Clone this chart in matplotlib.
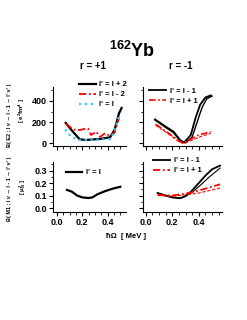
import numpy as np
import matplotlib
matplotlib.use('Agg')
import matplotlib.pyplot as plt
from matplotlib.ticker import MultipleLocator

plt.rcParams['font.family'] = ['Liberation Sans', 'DejaVu Sans']
plt.rcParams['font.weight'] = 'bold'
plt.rcParams['mathtext.default'] = 'regular'

# ============================================================
# Data
# ============================================================
# r = +1, B(E2)
tl_black_x = [0.07, 0.115, 0.18, 0.23, 0.30, 0.34, 0.42, 0.455, 0.49, 0.51]
tl_black_y = [192, 126, 38, 31, 38, 41, 57, 126, 283, 333]
tl_red_x = [0.07, 0.13, 0.18, 0.215, 0.245, 0.27, 0.31, 0.34, 0.38, 0.42, 0.455, 0.49]
tl_red_y = [185, 130, 125, 135, 140, 78, 110, 60, 95, 70, 100, 240]
tl_cyan_x = [0.065, 0.115, 0.18, 0.25, 0.33, 0.42, 0.45, 0.49]
tl_cyan_y = [130, 60, 30, 33, 35, 40, 100, 255]

# r = -1, B(E2)
tr_black1_x = [0.07, 0.15, 0.21, 0.26, 0.29, 0.34, 0.375, 0.41, 0.45, 0.49]
tr_black1_y = [226, 158, 110, 30, 8, 80, 238, 364, 433, 452]
tr_black2_x = [0.07, 0.15, 0.21, 0.26, 0.30, 0.35, 0.39, 0.425, 0.46, 0.50]
tr_black2_y = [220, 150, 100, 22, 4, 60, 210, 340, 420, 445]
tr_red1_x = [0.075, 0.19, 0.25, 0.28, 0.34, 0.40, 0.49]
tr_red1_y = [180, 80, 22, 2, 40, 80, 108]
tr_red2_x = [0.075, 0.19, 0.25, 0.29, 0.35, 0.41, 0.49]
tr_red2_y = [170, 72, 15, 0, 30, 62, 95]

# r = +1, B(M1)
bl_black_x = [0.08, 0.12, 0.16, 0.20, 0.25, 0.28, 0.32, 0.38, 0.44, 0.50]
bl_black_y = [0.145, 0.13, 0.10, 0.085, 0.08, 0.085, 0.11, 0.135, 0.155, 0.17]

# r = -1, B(M1)
br_black1_x = [0.09, 0.15, 0.20, 0.26, 0.30, 0.34, 0.40, 0.45, 0.50, 0.56]
br_black1_y = [0.12, 0.10, 0.085, 0.078, 0.095, 0.13, 0.20, 0.26, 0.31, 0.34]
br_black2_x = [0.09, 0.15, 0.20, 0.26, 0.30, 0.35, 0.42, 0.48, 0.56]
br_black2_y = [0.12, 0.10, 0.085, 0.08, 0.095, 0.125, 0.19, 0.25, 0.32]
br_red1_x = [0.09, 0.20, 0.30, 0.40, 0.50, 0.56]
br_red1_y = [0.105, 0.10, 0.115, 0.14, 0.17, 0.19]
br_red2_x = [0.09, 0.20, 0.30, 0.40, 0.50, 0.56]
br_red2_y = [0.10, 0.095, 0.105, 0.12, 0.145, 0.16]

RED = '#ff0000'
CYAN = '#33ccee'


def style(ax, top, labels):
    ax.spines['top'].set_visible(False)
    ax.spines['right'].set_visible(False)
    ax.xaxis.set_major_locator(MultipleLocator(0.2))
    ax.xaxis.set_minor_locator(MultipleLocator(0.05))
    if top:
        ax.set_ylim(-25, 530)
        ax.yaxis.set_major_locator(MultipleLocator(200))
        ax.yaxis.set_minor_locator(MultipleLocator(100))
        ax.tick_params(axis='x', labelbottom=False)
    else:
        ax.set_ylim(-0.032, 0.368)
        ax.yaxis.set_major_locator(MultipleLocator(0.1))
        ax.yaxis.set_minor_locator(MultipleLocator(0.05))
    if not labels:
        ax.tick_params(axis='y', labelleft=False)
    ax.tick_params(which='major', length=3, width=0.8, labelsize=6.5, pad=1.5)
    ax.tick_params(which='minor', length=1.8, width=0.6)
    for lab in ax.get_xticklabels() + ax.get_yticklabels():
        lab.set_fontweight('bold')


fig = plt.figure(figsize=(2.47, 3.20), dpi=100)
ax_tl = fig.add_axes([0.2146, 0.5438, 0.2955, 0.184])
ax_tr = fig.add_axes([0.579, 0.5438, 0.320, 0.184])
ax_bl = fig.add_axes([0.2146, 0.3375, 0.2955, 0.156])
ax_br = fig.add_axes([0.579, 0.3375, 0.320, 0.156])

for ax in (ax_tl, ax_bl):
    ax.set_xlim(-0.03, 0.545)
for ax in (ax_tr, ax_br):
    ax.set_xlim(-0.02, 0.575)

# top-left
ax_tl.plot(tl_black_x, tl_black_y, '-', color='black', lw=1.6, label="I' = I + 2")
ax_tl.plot(tl_red_x, tl_red_y, '--', color=RED, lw=1.3, dashes=(4, 1.5, 1, 1.5), label="I' = I - 2")
ax_tl.plot(tl_cyan_x, tl_cyan_y, ':', color=CYAN, lw=1.6, label="I' = I")
ax_tl.legend(loc='upper left', bbox_to_anchor=(0.3, 1.17), frameon=False, fontsize=5.5,
             handlelength=2.2, handletextpad=0.5, labelspacing=0.35, borderpad=0)

# top-right
ax_tr.plot(tr_black1_x, tr_black1_y, '-', color='black', lw=1.3, label="I' = I - 1")
ax_tr.plot(tr_black2_x, tr_black2_y, '-', color='black', lw=1.0)
ax_tr.plot(tr_red1_x, tr_red1_y, '--', color=RED, lw=1.2, dashes=(4, 1.5, 1, 1.5), label="I' = I + 1")
ax_tr.plot(tr_red2_x, tr_red2_y, '--', color=RED, lw=0.8, dashes=(3, 1.5))
ax_tr.legend(loc='upper left', bbox_to_anchor=(0.03, 1.06), frameon=False, fontsize=5.5,
             handlelength=2.2, handletextpad=0.5, labelspacing=0.35, borderpad=0)

# bottom-left
ax_bl.plot(bl_black_x, bl_black_y, '-', color='black', lw=1.6, label="I' = I")
ax_bl.legend(loc='upper left', bbox_to_anchor=(0.12, 0.94), frameon=False, fontsize=5.5,
             handlelength=2.2, handletextpad=0.5, borderpad=0)

# bottom-right
ax_br.plot(br_black1_x, br_black1_y, '-', color='black', lw=1.3, label="I' = I - 1")
ax_br.plot(br_black2_x, br_black2_y, '-', color='black', lw=0.8)
ax_br.plot(br_red1_x, br_red1_y, '--', color=RED, lw=1.3, dashes=(4, 1.5, 1, 1.5), label="I' = I + 1")
ax_br.plot(br_red2_x, br_red2_y, '--', color=RED, lw=0.8, dashes=(3, 1.5))
ax_br.legend(loc='upper left', bbox_to_anchor=(0.08, 1.18), frameon=False, fontsize=5.5,
             handlelength=2.2, handletextpad=0.5, labelspacing=0.35, borderpad=0)

style(ax_tl, True, True)
style(ax_tr, True, False)
style(ax_bl, False, True)
style(ax_br, False, False)

# titles and labels
fig.text(0.535, 0.84, r'$^{162}$Yb', ha='center', va='center', fontsize=13, fontweight='bold')
fig.text(0.375, 0.793, 'r = +1', ha='center', va='center', fontsize=7, fontweight='bold')
fig.text(0.73, 0.793, 'r = -1', ha='center', va='center', fontsize=7, fontweight='bold')

fig.text(0.04, 0.64, "B( E2 ; I ν → I - 1 → I' ν' )", rotation=90, ha='center', va='center',
         fontsize=4.0, fontweight='bold')
fig.text(0.09, 0.655, r"[ e$^2$fm$^4$ ]", rotation=90, ha='center', va='center',
         fontsize=4.3, fontweight='bold')
fig.text(0.04, 0.41, "B( M1 ; I ν → I - 1 → I' ν' )", rotation=90, ha='center', va='center',
         fontsize=4.0, fontweight='bold')
fig.text(0.09, 0.415, r"[ $\mu_N^2$ ]", rotation=90, ha='center', va='center',
         fontsize=4.3, fontweight='bold')

fig.text(0.51, 0.262, 'ħΩ  [ MeV ]', ha='center', va='center', fontsize=5.5, fontweight='bold')

fig.savefig('out.png', dpi=100, facecolor='white')
